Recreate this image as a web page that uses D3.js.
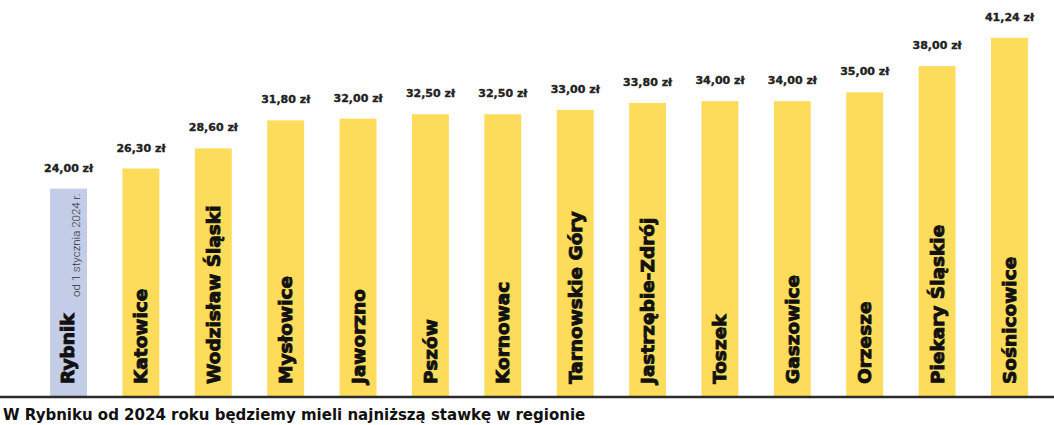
<!DOCTYPE html>
<html>
<head>
<meta charset="utf-8">
<script src="https://cdn.jsdelivr.net/npm/d3@7"></script>
<style>
	body { margin: 0; background: #fff; }
	svg { display: block; }
	.value { font-family: "DejaVu Sans", sans-serif; font-weight: bold; font-size: 11px; fill: #222; stroke: #222; stroke-width: 0.35px; }
	.cat { font-family: "DejaVu Sans", sans-serif; font-weight: bold; font-size: 18.5px; fill: #111; stroke: #111; stroke-width: 0.9px; }
	.note { font-family: "Liberation Sans Narrow", Roboto, sans-serif; font-weight: 300; font-size: 11.5px; fill: #333; }
	.title { font-family: "DejaVu Sans", sans-serif; font-weight: bold; font-size: 15px; fill: #111; }
</style>
</head>
<body>
<div id="chart"></div>
<script>
//Data
var cities = ["Rybnik", "Katowice", "Wodzisław Śląski", "Mysłowice", "Jaworzno", "Pszów", "Kornowac",
	"Tarnowskie Góry", "Jastrzębie-Zdrój", "Toszek", "Gaszowice", "Orzesze", "Piekary Śląskie", "Sośnicowice"];
var prices = [24.00, 26.30, 28.60, 31.80, 32.00, 32.50, 32.50, 33.00, 33.80, 34.00, 34.00, 35.00, 38.00, 41.24];
var noteText = "od 1 stycznia 2024 r.";
var titleText = "W Rybniku od 2024 roku będziemy mieli najniższą stawkę w regionie";

//SVG setup
var width = 1054;
var height = 425;
var baseline = 396;

var svg = d3.select("#chart")
	.append("svg")
	.attr("width", width)
	.attr("height", height);

//Scales
var x = d3.scaleBand()
	.domain(cities)
	.range([32, 1046])
	.paddingInner(0.49)
	.paddingOuter(0.25);

var y = d3.scaleLinear()
	.domain([0.3, 41.24])
	.range([baseline, baseline - 8.75 * 40.94]);

//Bars
var bars = svg.selectAll(".bar")
	.data(cities)
	.enter()
	.append("g")
	.attr("class", "bar")
	.attr("transform", function(d) { return "translate(" + x(d) + ",0)"; });

bars.append("rect")
	.attr("y", function(d, i) { return y(prices[i]); })
	.attr("width", x.bandwidth())
	.attr("height", function(d, i) { return baseline - y(prices[i]); })
	.attr("fill", function(d, i) { return i === 0 ? "#c3cde8" : "#fcdc5a"; });

//value labels
bars.append("text")
	.attr("class", "value")
	.attr("x", x.bandwidth() / 2)
	.attr("y", function(d, i) { return y(prices[i]) - 17; })
	.attr("text-anchor", "middle")
	.text(function(d, i) { return prices[i].toFixed(2).replace(".", ",") + " zł"; });

//category labels, rotated
bars.append("text")
	.attr("class", "cat")
	.attr("transform", function(d, i) {
		var cx = i === 0 ? x.bandwidth() / 2 - 1 : x.bandwidth() / 2;
		return "translate(" + (cx + 6.5) + ",384) rotate(-90)";
	})
	.text(function(d) { return d; });

//note for Rybnik
svg.append("text")
	.attr("class", "note")
	.attr("transform", "translate(" + (x(cities[0]) + x.bandwidth() / 2 + 11) + ",297) rotate(-90)")
	.text(noteText);

//baseline
svg.append("line")
	.attr("x1", 0)
	.attr("x2", width)
	.attr("y1", baseline + 1)
	.attr("y2", baseline + 1)
	.attr("stroke", "#2b2b2b")
	.attr("stroke-width", 2.5);

//title
svg.append("text")
	.attr("class", "title")
	.attr("x", 3)
	.attr("y", 420)
	.text(titleText);
</script>
</body>
</html>
